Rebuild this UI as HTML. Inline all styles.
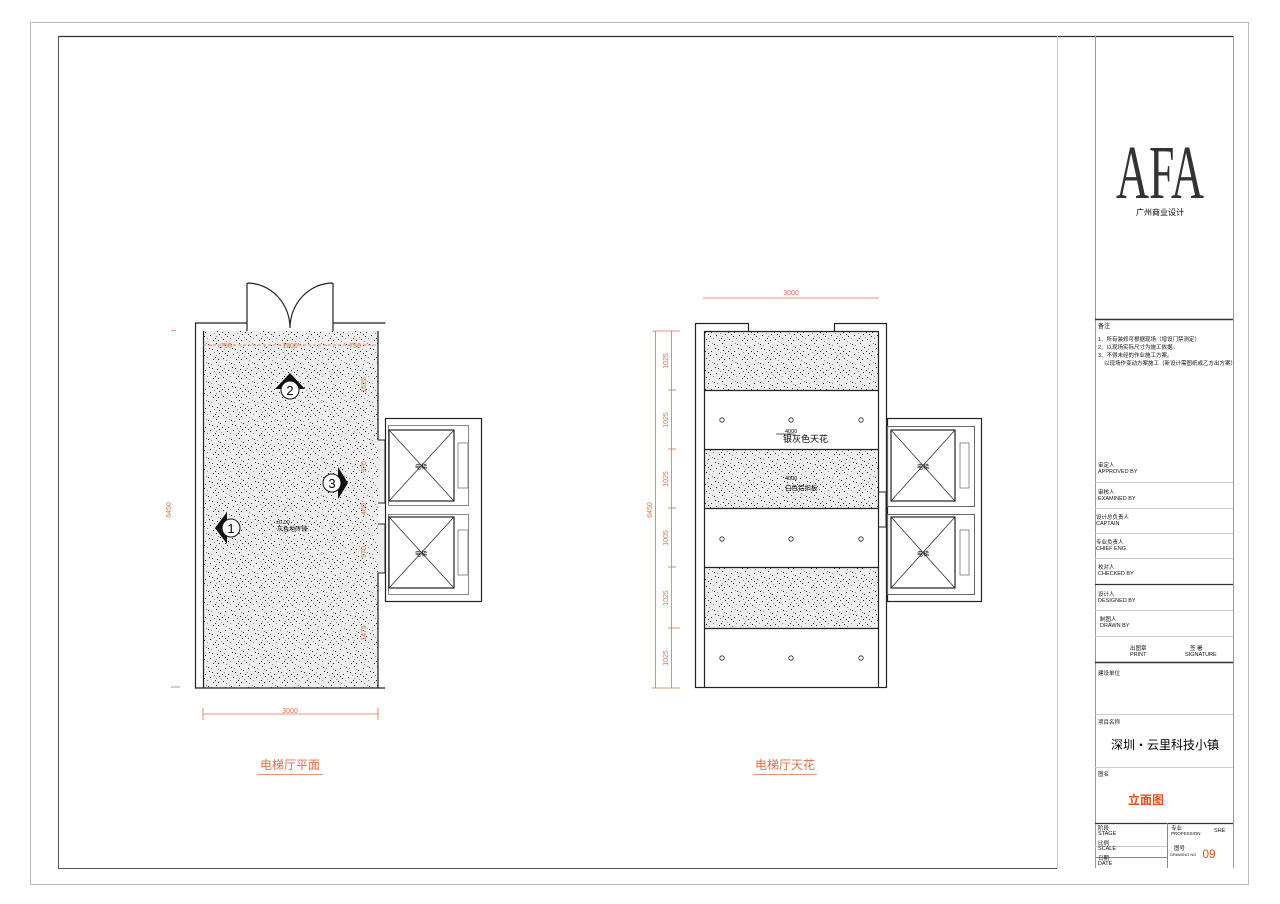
<!DOCTYPE html>
<html><head><meta charset="utf-8">
<style>
html,body{margin:0;padding:0;background:#fff;}
svg{display:block;}
text{font-family:"Liberation Sans","Noto Sans CJK SC",sans-serif;}
</style></head><body>
<svg width="1280" height="904" viewBox="0 0 1280 904" xmlns="http://www.w3.org/2000/svg">
<defs>
<pattern id="st" width="23" height="19" patternUnits="userSpaceOnUse">
<rect width="23" height="19" fill="#eee"/>
<g fill="#222">
<rect x="1" y="2" width="1" height="1"/><rect x="5" y="7" width="1" height="1"/><rect x="9" y="1" width="1" height="1"/>
<rect x="13" y="5" width="1" height="1"/><rect x="18" y="3" width="1" height="1"/><rect x="21" y="9" width="1" height="1"/>
<rect x="3" y="12" width="1" height="1"/><rect x="8" y="15" width="1" height="1"/><rect x="12" y="11" width="1" height="1"/>
<rect x="16" y="16" width="1" height="1"/><rect x="20" y="13" width="1" height="1"/><rect x="6" y="17" width="1" height="1"/>
<rect x="10" y="8" width="1" height="1"/><rect x="15" y="9" width="1" height="1"/><rect x="2" y="6" width="1" height="1"/>
<rect x="18" y="11" width="1" height="1"/><rect x="11" y="17" width="1" height="1"/>
</g>
<g fill="#888">
<rect x="4" y="3" width="1" height="1"/><rect x="11" y="4" width="1" height="1"/><rect x="17" y="7" width="1" height="1"/>
<rect x="7" y="10" width="1" height="1"/><rect x="14" y="14" width="1" height="1"/><rect x="19" y="18" width="1" height="1"/>
<rect x="0" y="15" width="1" height="1"/><rect x="22" y="1" width="1" height="1"/><rect x="9" y="13" width="1" height="1"/>
</g>
</pattern>
</defs>
<rect width="1280" height="904" fill="#fff"/>
<rect x="30.5" y="22.5" width="1218" height="862" fill="none" stroke="#bbb" stroke-width="1"/>
<line x1="58" y1="36.5" x2="1233" y2="36.5" stroke="#333" stroke-width="1.2"/>
<line x1="58.5" y1="36" x2="58.5" y2="868" stroke="#555" stroke-width="1"/>
<line x1="58" y1="868.5" x2="1057" y2="868.5" stroke="#555" stroke-width="1"/>
<line x1="1057.5" y1="36" x2="1057.5" y2="868" stroke="#ccc" stroke-width="1"/>
<line x1="1095.5" y1="36" x2="1095.5" y2="868" stroke="#999" stroke-width="1"/>
<line x1="1233.5" y1="36" x2="1233.5" y2="868" stroke="#999" stroke-width="1"/>

<!-- LEFT PLAN -->
<g stroke="#222" stroke-width="1.2" fill="none">
<rect x="203" y="331" width="175" height="357" fill="url(#st)" stroke="none"/>
<path d="M247 323 H195.5 V688 H385"/>
<path d="M333 323 H385.5"/>
<line x1="203.5" y1="331" x2="203.5" y2="688"/>
<path d="M247 331 V283 M333 331 V283 M247.5 283 A43 45 0 0 1 290 328 M332.5 283 A43 45 0 0 0 290 328"/>
<path d="M378 331 V440 M378 573 V688"/>
<rect x="385.5" y="418.5" width="96" height="183" stroke-width="1.2" fill="#fff"/>
<path d="M378 440 H385 V503 H378 M378 524 H385 V573 H378" fill="#eee" stroke-width="1"/>
<rect x="388.5" y="425.5" width="80" height="80" stroke="#888" stroke-width="1"/>
<rect x="388.5" y="514.5" width="80" height="80" stroke="#888" stroke-width="1"/>
<rect x="389" y="430" width="65" height="71" stroke-width="1.2"/>
<line x1="389" y1="430" x2="454" y2="501" stroke-width="0.7"/><line x1="454" y1="430" x2="389" y2="501" stroke-width="0.7"/>
<rect x="389" y="517" width="65" height="71" stroke-width="1.2"/>
<line x1="389" y1="517" x2="454" y2="588" stroke-width="0.7"/><line x1="454" y1="517" x2="389" y2="588" stroke-width="0.7"/>
<rect x="458" y="443" width="10" height="45" stroke="#777" stroke-width="0.8"/>
<rect x="458" y="530" width="10" height="45" stroke="#777" stroke-width="0.8"/>
</g>
<text x="421" y="469" font-size="6" text-anchor="middle">电梯</text>
<text x="421" y="556" font-size="6" text-anchor="middle">电梯</text>
<g stroke="#e0704a" stroke-width="0.8" fill="none">
<line x1="203" y1="345" x2="378" y2="345" stroke-dasharray="3,2"/>
<line x1="203" y1="714" x2="378" y2="714"/><line x1="203" y1="708" x2="203" y2="720"/><line x1="378" y1="708" x2="378" y2="720"/>
<line x1="171" y1="331" x2="176" y2="330"/><line x1="171" y1="687" x2="180" y2="687"/>
</g>
<g fill="#e0704a" font-size="7">
<text x="226" y="348" text-anchor="middle">750</text>
<text x="290" y="348" text-anchor="middle">1500</text>
<text x="355" y="348" text-anchor="middle">750</text>
<text x="290" y="713" text-anchor="middle">3000</text>
<text transform="translate(171,510) rotate(-90)" text-anchor="middle">6450</text>
<text transform="translate(366,385) rotate(-90)" text-anchor="middle">1625</text>
<text transform="translate(366,467) rotate(-90)" text-anchor="middle">970</text>
<text transform="translate(366,509) rotate(-90)" text-anchor="middle">460</text>
<text transform="translate(366,552) rotate(-90)" text-anchor="middle">970</text>
<text transform="translate(366,633) rotate(-90)" text-anchor="middle">1475</text>
</g>
<g>
<path d="M275 389 L290 373 L305 389 Z" fill="#111"/><circle cx="290" cy="390" r="9" fill="#fff" stroke="#111"/>
<text x="290" y="395" font-size="13" text-anchor="middle">2</text>
<path d="M338 467 L348 483 L338 499 Z" fill="#111"/><circle cx="332" cy="483" r="9" fill="#fff" stroke="#111"/>
<text x="332" y="488" font-size="13" text-anchor="middle">3</text>
<path d="M227 512 L215 528 L227 544 Z" fill="#111"/><circle cx="231" cy="528" r="9" fill="#fff" stroke="#111"/>
<text x="231" y="533" font-size="13" text-anchor="middle">1</text>
</g>
<text x="276" y="524" font-size="5.5">±0.00</text>
<text x="277" y="531" font-size="6">灰色地砖铺</text>
<text x="290" y="769" font-size="12" fill="#e0704a" text-anchor="middle">电梯厅平面</text>
<line x1="257" y1="774.5" x2="323" y2="774.5" stroke="#e0704a" stroke-width="0.8"/>

<!-- RIGHT CEILING -->
<g stroke="#222" stroke-width="1.2" fill="none">
<rect x="695.5" y="323.5" width="191" height="364" fill="#fff"/>
<rect x="704" y="331" width="174" height="59" fill="url(#st)" stroke="none"/>
<rect x="704" y="449" width="174" height="59" fill="url(#st)" stroke="none"/>
<rect x="704" y="567" width="174" height="61" fill="url(#st)" stroke="none"/>
<line x1="704.5" y1="331" x2="704.5" y2="688"/><line x1="878.5" y1="331" x2="878.5" y2="688"/>
<line x1="704" y1="331.5" x2="878" y2="331.5"/>
<line x1="748.5" y1="323" x2="748.5" y2="331"/><line x1="834.5" y1="323" x2="834.5" y2="331"/>
<line x1="749" y1="323.5" x2="834" y2="323.5" stroke="#fff" stroke-width="2"/>
<line x1="704" y1="390.5" x2="878" y2="390.5"/><line x1="704" y1="449.5" x2="878" y2="449.5"/>
<line x1="704" y1="508.5" x2="878" y2="508.5"/><line x1="704" y1="567.5" x2="878" y2="567.5"/>
<line x1="704" y1="628.5" x2="878" y2="628.5"/>
<rect x="887.5" y="418.5" width="94" height="183" fill="#fff"/>
<rect x="887.5" y="426.5" width="87" height="80" stroke="#666" stroke-width="1"/>
<rect x="887.5" y="514.5" width="87" height="80" stroke="#666" stroke-width="1"/>
<rect x="891" y="430" width="64" height="71"/>
<line x1="891" y1="430" x2="955" y2="501" stroke-width="0.7"/><line x1="955" y1="430" x2="891" y2="501" stroke-width="0.7"/>
<rect x="891" y="517" width="64" height="71"/>
<line x1="891" y1="517" x2="955" y2="588" stroke-width="0.7"/><line x1="955" y1="517" x2="891" y2="588" stroke-width="0.7"/>
<rect x="960" y="443" width="9" height="45" stroke="#777" stroke-width="0.8"/>
<rect x="960" y="530" width="9" height="45" stroke="#777" stroke-width="0.8"/>
<path d="M878 492 H886 V527 H878" stroke-width="1"/>
<g stroke-width="0.8">
<circle cx="722" cy="420" r="2.2"/><circle cx="791" cy="420" r="2.2"/><circle cx="861" cy="420" r="2.2"/>
<circle cx="722" cy="539" r="2.2"/><circle cx="791" cy="539" r="2.2"/><circle cx="861" cy="539" r="2.2"/>
<circle cx="722" cy="658" r="2.2"/><circle cx="791" cy="658" r="2.2"/><circle cx="861" cy="658" r="2.2"/>
</g>
</g>
<text x="923" y="469" font-size="6" text-anchor="middle">电梯</text>
<text x="923" y="556" font-size="6" text-anchor="middle">电梯</text>
<line x1="776" y1="434" x2="794" y2="434" stroke="#222" stroke-width="0.7"/>
<text x="785" y="433" font-size="5.5">4000</text>
<text x="783" y="442" font-size="9">银灰色天花</text>
<text x="785" y="480" font-size="5.5">4000</text>
<text x="785" y="490" font-size="6.5">白色铝扣板</text>
<g stroke="#e0704a" stroke-width="0.8" fill="none">
<line x1="703" y1="298" x2="879" y2="298"/>
<line x1="655.5" y1="331" x2="655.5" y2="688"/>
<line x1="671.5" y1="331" x2="671.5" y2="688"/>
<line x1="652" y1="331" x2="680" y2="331"/><line x1="652" y1="688" x2="680" y2="688"/>
<line x1="668" y1="390" x2="676" y2="390"/><line x1="668" y1="449" x2="676" y2="449"/>
<line x1="668" y1="508" x2="676" y2="508"/><line x1="668" y1="567" x2="676" y2="567"/>
<line x1="668" y1="628" x2="680" y2="628"/>
</g>
<g fill="#e0704a" font-size="7">
<text x="791" y="295" text-anchor="middle">3000</text>
<text transform="translate(652,510) rotate(-90)" text-anchor="middle">6450</text>
<text transform="translate(668,361) rotate(-90)" text-anchor="middle">1025</text>
<text transform="translate(668,420) rotate(-90)" text-anchor="middle">1025</text>
<text transform="translate(668,479) rotate(-90)" text-anchor="middle">1025</text>
<text transform="translate(668,538) rotate(-90)" text-anchor="middle">1005</text>
<text transform="translate(668,598) rotate(-90)" text-anchor="middle">1025</text>
<text transform="translate(668,658) rotate(-90)" text-anchor="middle">1025</text>
</g>
<text x="785" y="769" font-size="12" fill="#e0704a" text-anchor="middle">电梯厅天花</text>
<line x1="753" y1="774.5" x2="817" y2="774.5" stroke="#e0704a" stroke-width="0.8"/>

<!-- TITLE BLOCK -->
<text x="1160" y="198" font-size="76" style="font-family:'Liberation Serif',serif" text-anchor="middle" fill="#333" textLength="88" lengthAdjust="spacingAndGlyphs">AFA</text>
<text x="1160" y="215" font-size="8" text-anchor="middle">广州商业设计</text>
<g stroke="#333" fill="none">
<line x1="1095" y1="319.5" x2="1233" y2="319.5" stroke-width="1.5"/>
<line x1="1095" y1="584.5" x2="1233" y2="584.5" stroke-width="1.2"/>
<line x1="1095" y1="662.5" x2="1233" y2="662.5" stroke-width="1.5"/>
<line x1="1095" y1="823.5" x2="1233" y2="823.5" stroke-width="1.2"/>
</g>
<g stroke="#ccc" fill="none">
<line x1="1095" y1="482.5" x2="1233" y2="482.5"/><line x1="1095" y1="508.5" x2="1233" y2="508.5"/>
<line x1="1095" y1="533.5" x2="1233" y2="533.5"/><line x1="1095" y1="558.5" x2="1233" y2="558.5"/>
<line x1="1095" y1="610.5" x2="1233" y2="610.5"/><line x1="1095" y1="636.5" x2="1233" y2="636.5"/>
<line x1="1095" y1="714.5" x2="1233" y2="714.5"/><line x1="1095" y1="767.5" x2="1233" y2="767.5"/>
<line x1="1167.5" y1="823" x2="1167.5" y2="868" stroke="#888"/>
<line x1="1095" y1="846.5" x2="1167" y2="846.5"/><line x1="1095" y1="857.5" x2="1167" y2="857.5" stroke="#888"/>
</g>
<g font-size="5.5" fill="#111">
<text x="1098" y="328" font-size="6">备注</text>
<text x="1098" y="341">1、所有装修可根据现场（增设门禁测定）</text>
<text x="1098" y="349">2、以现场实际尺寸为施工依据。</text>
<text x="1098" y="357">3、不得未经的作业施工方案。</text>
<text x="1104" y="365">以现场作变动方案施工（新设计需图纸或乙方出方案）</text>
<text x="1098" y="467">审定人</text><text x="1098" y="473">APPROVED BY</text>
<text x="1098" y="494">审核人</text><text x="1098" y="500">EXAMINED BY</text>
<text x="1096" y="519">设计总负责人</text><text x="1096" y="525">CAPTAIN</text>
<text x="1096" y="544">专业负责人</text><text x="1096" y="550">CHIEF ENG.</text>
<text x="1098" y="569">校对人</text><text x="1098" y="575">CHECKED BY</text>
<text x="1098" y="596">设计人</text><text x="1098" y="602">DESIGNED BY</text>
<text x="1100" y="621">制图人</text><text x="1100" y="627">DRAWN BY</text>
<text x="1130" y="650">出图章</text><text x="1130" y="656">PRINT</text>
<text x="1190" y="650">签 署</text><text x="1185" y="656">SIGNATURE</text>
<text x="1098" y="675">建设单位</text>
<text x="1098" y="724">项目名称</text>
<text x="1098" y="776">图名</text>
<text x="1098" y="830">阶段</text><text x="1098" y="835">STAGE</text>
<text x="1098" y="845">比例</text><text x="1098" y="850">SCALE</text>
<text x="1098" y="860">日期</text><text x="1098" y="865">DATE</text>
<text x="1171" y="830">专业</text><text x="1171" y="835" font-size="4.5">PROFESSION</text>
<text x="1214" y="832">SHE</text>
<text x="1174" y="850">图号</text><text x="1170" y="856" font-size="4">DRAWING NO</text>
</g>
<text x="1165" y="749" font-size="12" text-anchor="middle">深圳・云里科技小镇</text>
<text x="1146" y="804" font-size="12" font-weight="bold" fill="#e0501a" text-anchor="middle">立面图</text>
<text x="1209" y="858" font-size="12" fill="#e0501a" text-anchor="middle">09</text>
</svg>
</body></html>
